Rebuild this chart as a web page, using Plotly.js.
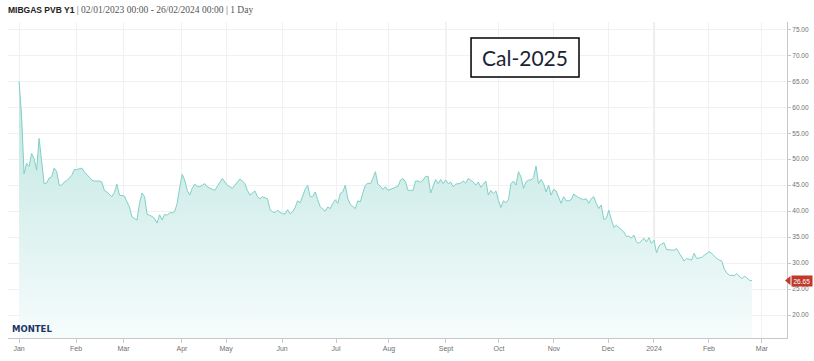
<!DOCTYPE html>
<html>
<head>
<meta charset="utf-8">
<script src="https://cdn.plot.ly/plotly-3.0.1.min.js"></script>
<style>
html,body{margin:0;padding:0;background:#fff;}
#chart{width:814px;height:361px;}
</style>
</head>
<body>
<div id="chart"></div>
<script>
// Daily settlement prices (EUR/MWh), one value per trading session, 02/01/2023 - 26/02/2024
const price = [
65.0,58.5,47.2,49.2,48.6,51.1,50.1,47.9,54.0,49.5,
45.3,45.4,46.4,46.6,48.3,47.6,45.0,45.0,45.6,45.9,
46.3,46.9,48.0,48.0,48.1,48.3,47.6,47.1,46.6,46.0,
45.8,45.8,45.8,45.6,44.0,43.7,43.3,42.8,43.6,45.2,
43.1,43.0,42.9,41.8,40.8,38.9,38.6,38.3,41.5,43.5,
42.8,39.4,39.2,39.0,38.6,37.7,39.3,38.3,39.4,39.2,
39.7,39.7,39.9,41.5,44.5,47.1,46.0,44.0,43.1,44.4,
45.2,44.8,44.7,45.0,45.3,44.7,44.4,44.2,44.0,44.7,
45.5,46.3,45.6,45.0,44.7,44.4,45.0,45.6,46.2,45.8,
45.3,44.0,43.1,43.5,43.9,42.8,42.4,42.8,42.6,42.4,
40.3,39.9,39.7,40.2,39.8,39.5,39.5,40.3,39.5,39.9,
40.7,42.0,41.6,42.8,44.2,45.0,42.8,42.8,43.7,42.2,
40.9,40.4,40.0,40.8,40.5,41.5,42.2,41.5,43.4,43.7,
45.0,42.4,41.3,40.9,40.5,42.0,41.8,43.5,45.0,45.4,
45.3,46.3,47.6,45.2,44.8,44.2,44.7,44.0,44.2,44.4,
44.5,44.8,46.0,46.3,45.6,44.0,44.0,44.0,45.8,45.8,
45.6,46.0,46.7,46.7,43.5,45.0,46.1,45.3,46.1,45.3,
46.0,45.3,45.6,44.7,45.2,45.3,45.4,45.8,45.4,46.3,
46.0,45.6,45.0,45.6,44.6,45.3,45.8,43.1,44.0,43.4,
43.9,42.1,40.7,42.0,41.6,42.2,45.3,45.8,45.0,47.6,
46.6,44.4,45.6,46.0,46.0,46.5,48.7,45.3,46.1,45.3,
43.7,45.0,43.1,44.2,43.9,42.7,41.5,42.8,42.0,42.0,
42.2,43.3,42.9,42.6,42.4,42.2,42.4,41.5,42.4,42.8,
41.5,40.5,41.2,38.4,38.6,40.2,38.4,36.9,37.3,36.9,
36.4,36.0,35.1,35.2,34.8,35.4,34.1,33.8,34.3,34.8,
34.1,34.9,33.8,34.4,32.0,33.3,33.7,33.9,32.6,32.6,
32.5,32.5,32.8,31.9,31.1,30.4,30.9,30.8,30.6,31.9,
30.9,31.0,31.1,31.5,31.9,32.2,31.9,31.3,30.9,30.6,
30.4,28.9,28.1,27.7,27.6,27.6,28.0,27.5,27.0,27.5,
27.2,26.7,26.65
];

// Month tick positions on the ordinal (trading-session) axis and their labels
const tickPos = [0, 22.7, 41.6, 64.9, 82.5, 104.8, 126.3, 147.4, 170.1, 191.2, 213.1, 234.7, 253, 274.9, 296];
const tickLabels = ['Jan','Feb','Mar','Apr','May','Jun','Jul','Aug','Sept','Oct','Nov','Dec','2024','Feb','Mar'];

const yTicks = [20,25,30,35,40,45,50,55,60,65,70,75];
const lastPrice = price[price.length - 1];

const trace = {
  y: price,
  type: 'scatter',
  mode: 'lines',
  line: {color: 'rgb(128,208,198)', width: 1},
  fill: 'tozeroy',
  fillgradient: {
    type: 'vertical',
    start: 15.6,
    stop: 70,
    colorscale: [[0, 'rgb(246,252,252)'], [1, 'rgb(182,227,221)']]
  },
  hoverinfo: 'skip'
};

const layout = {
  width: 814,
  height: 361,
  margin: {l: 8, r: 27, t: 22, b: 23},
  paper_bgcolor: '#fff',
  plot_bgcolor: '#fff',
  showlegend: false,
  title: {
    text: '<b>MIBGAS PVB Y1</b> <span style="font-family:\'Liberation Serif\',serif;font-weight:normal;font-size:9.5px;fill:#555">| 02/01/2023 00:00 - 26/02/2024 00:00 | 1 Day</span>',
    x: 0.0098, xref: 'container', xanchor: 'left',
    font: {family: 'Liberation Sans, Arial, sans-serif', size: 8.5, color: '#222'},
    y: 0.972, yref: 'container', yanchor: 'middle'
  },
  xaxis: {
    range: [-4.4, 306],
    tickvals: tickPos,
    ticktext: tickLabels,
    showgrid: true,
    gridcolor: '#f1f1f1',
    gridwidth: 1,
    zeroline: false,
    showline: true,
    linecolor: '#c8c8c8',
    linewidth: 1,
    ticks: 'outside',
    ticklen: 4,
    tickcolor: '#c8c8c8',
    tickfont: {family: 'Liberation Sans Narrow, Liberation Sans, Arial, sans-serif', size: 7, color: '#707070'},
    fixedrange: true
  },
  yaxis: {
    side: 'right',
    range: [15.6, 76.4],
    tickvals: yTicks,
    tickformat: '.2f',
    showgrid: true,
    gridcolor: '#f1f1f1',
    zeroline: false,
    showline: true,
    linecolor: '#c8c8c8',
    linewidth: 1,
    ticks: 'outside',
    ticklen: 3,
    tickcolor: '#c8c8c8',
    tickfont: {family: 'Liberation Sans Narrow, Liberation Sans, Arial, sans-serif', size: 6.5, color: '#707070'},
    fixedrange: true
  },
  shapes: [
    {type: 'line', xref: 'x', yref: 'paper', x0: tickPos[12], x1: tickPos[12], y0: 0, y1: 1,
     line: {color: '#dedede', width: 1.2}, layer: 'below'},
    {type: 'line', xref: 'x', yref: 'paper', x0: tickPos[8], x1: tickPos[8], y0: 0, y1: 1,
     line: {color: '#e6e6e6', width: 1}, layer: 'below'},
    {type: 'rect', xref: 'paper', yref: 'paper', x0: 0.5944, x1: 0.733, y0: 0.826, y1: 0.949,
     line: {color: '#000', width: 1.5}, fillcolor: 'rgba(255,255,255,1)'},
    {type: 'path', xref: 'paper', yref: 'y',
     path: 'M 0.9975,' + lastPrice + ' L 1.0045,' + (lastPrice + 0.9) + ' L 1.0045,' + (lastPrice - 0.9) + ' Z',
     fillcolor: '#c0392b', line: {width: 0}}
  ],
  annotations: [
    {xref: 'paper', yref: 'paper', x: 0.6637, y: 0.8875, xanchor: 'center', yanchor: 'middle',
     text: 'Cal-2025', showarrow: false,
     font: {family: 'Lato, Open Sans, sans-serif', size: 21, color: '#1b2434'}},
    {xref: 'paper', yref: 'paper', x: 0.003, y: 0.028, xanchor: 'left', yanchor: 'middle',
     text: '<b>MONTEL</b>', showarrow: false,
     font: {family: 'DejaVu Sans, sans-serif', size: 8.5, color: '#1c3566'}},
    {xref: 'paper', yref: 'y', x: 1.0045, y: lastPrice, xanchor: 'left', yanchor: 'middle',
     text: lastPrice.toFixed(2), showarrow: false, bgcolor: '#c0392b', borderpad: 1.5,
     font: {family: 'Liberation Sans Narrow, Liberation Sans, Arial, sans-serif', size: 6.5, color: '#fff'}}
  ]
};

Plotly.newPlot('chart', [trace], layout, {staticPlot: true, displayModeBar: false});
</script>
</body>
</html>
